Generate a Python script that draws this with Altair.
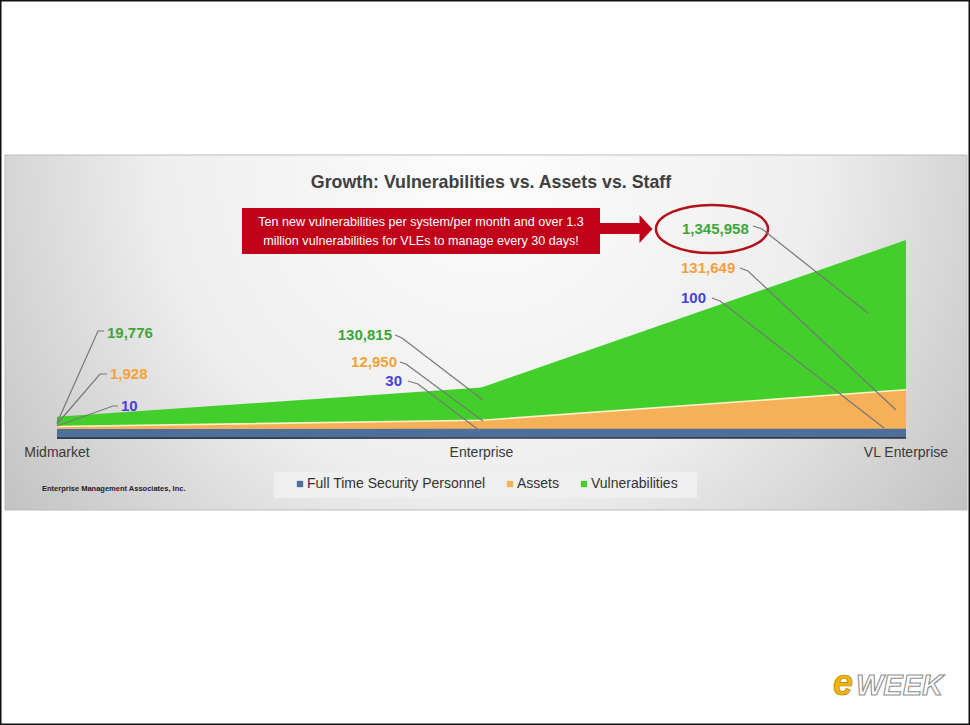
import altair as alt
import pandas as pd

# ---------------- data ----------------
categories = ["Midmarket", "Enterprise", "VL Enterprise"]
series_names = ["Full Time Security Personnel", "Assets", "Vulnerabilities"]
staff = [10, 30, 100]
assets = [1928, 12950, 131649]
vulnerabilities = [19776, 130815, 1345958]

title_text = "Growth: Vulnerabilities vs. Assets vs. Staff"
callout_text = ("Ten new vulnerabilities per system/per month and over 1.3\n"
                "million vulnerabilities for VLEs to manage every 30 days!")
source_text = "Enterprise Management Associates, Inc."

# ---------------- styles / layout ----------------
series_colors = ["#4e6f9b", "#f5b058", "#42cf2b"]
label_colors = ["#4b3fdc", "#f2a23c", "#3ea63a"]
FONT = "Liberation Sans"

# annotation layout: (category, series index) -> label anchor and leader polyline
label_layout = {
    ("Midmarket", 2): (107, 333, "left", [(57, 423), (98, 331), (104, 331)]),
    ("Midmarket", 1): (110, 374, "left", [(57, 424), (100, 374), (107, 374)]),
    ("Midmarket", 0): (121, 406, "left", [(57, 426), (113, 406), (118, 406)]),
    ("Enterprise", 2): (392, 335, "right", [(395, 335), (402, 338), (483, 400)]),
    ("Enterprise", 1): (397, 362, "right", [(400, 362), (406, 364), (483, 421)]),
    ("Enterprise", 0): (402, 381, "right", [(408, 381), (418, 384), (480, 431)]),
    ("VL Enterprise", 2): (682, 229, "left", [(753, 226), (762, 229), (868, 313)]),
    ("VL Enterprise", 1): (681, 268, "left", [(740, 268), (748, 271), (896, 410)]),
    ("VL Enterprise", 0): (681, 298, "left", [(712, 298), (720, 301), (884, 428)]),
}

# ---------------- tables ----------------
series_values = [staff, assets, vulnerabilities]
rows = []
for i, c in enumerate(categories):
    for j, name in enumerate(series_names):
        rows.append({"category": c, "series": name, "value": series_values[j][i], "order": j})
df = pd.DataFrame(rows)

lab_rows, lead_rows = [], []
for i, c in enumerate(categories):
    for j, name in enumerate(series_names):
        px, py, al, poly = label_layout[(c, j)]
        lab_rows.append({"category": c, "series": name, "value": series_values[j][i],
                         "px": px, "py": py, "anchor": al})
        for k, (lx, ly) in enumerate(poly):
            lead_rows.append({"id": f"{c}-{j}", "seq": k, "px": lx, "py": ly})
lab_df = pd.DataFrame(lab_rows)
lead_df = pd.DataFrame(lead_rows)

one = pd.DataFrame({"a": [0]})

ymax = max(a + v for a, v in zip(assets, vulnerabilities))
yscale = alt.Scale(type="pow", exponent=0.65, domain=[0, ymax], range=[429, 240])
xscale = alt.Scale(type="point", domain=categories, range=[57, 906], padding=0)
X = alt.X("category:O", scale=xscale, axis=None)

# ---------------- decorations ----------------
gradient = {
    "gradient": "radial",
    "x1": 0.5, "y1": 0.32, "r1": 0,
    "x2": 0.5, "y2": 0.32, "r2": 0.62,
    "stops": [
        {"offset": 0, "color": "#fdfdfd"},
        {"offset": 0.55, "color": "#eeeeee"},
        {"offset": 1, "color": "#c2c2c2"},
    ],
}
panel = alt.Chart(one).mark_rect(fill=gradient, stroke="#bdbdbd", strokeWidth=1).encode(
    x=alt.value(5), x2=alt.value(967), y=alt.value(155), y2=alt.value(510))

legend_box = alt.Chart(one).mark_rect(color="#efefef").encode(
    x=alt.value(274), x2=alt.value(697), y=alt.value(472), y2=alt.value(498))

title = alt.Chart(one).mark_text(
    text=title_text, font=FONT, fontSize=17.8, fontWeight="bold", color="#404040",
    align="center", baseline="middle").encode(x=alt.value(491), y=alt.value(183))

red = "#c10019"
box = alt.Chart(one).mark_rect(color=red).encode(
    x=alt.value(242), x2=alt.value(600), y=alt.value(208), y2=alt.value(254))
shaft = alt.Chart(one).mark_rect(color=red).encode(
    x=alt.value(598), x2=alt.value(641), y=alt.value(223), y2=alt.value(234))
tri_path = "M -0.464 -1 L 0.464 0 L -0.464 1 Z"
head = alt.Chart(one).mark_point(shape=tri_path, filled=True, size=784, color=red, opacity=1).encode(
    x=alt.value(646), y=alt.value(229))
box_text = alt.Chart(one).mark_text(
    text=callout_text, lineBreak="\n", lineHeight=19,
    font=FONT, fontSize=12.6, color="white",
    align="center", baseline="middle").encode(x=alt.value(421), y=alt.value(222))

ell_path = ("M -1 0 C -1 -0.2375 -0.5523 -0.43 0 -0.43 C 0.5523 -0.43 1 -0.2375 1 0 "
            "C 1 0.2375 0.5523 0.43 0 0.43 C -0.5523 0.43 -1 0.2375 -1 0 Z")
ellipse = alt.Chart(one).mark_point(shape=ell_path, filled=False, size=112 * 112,
                                    color="#b3121c", strokeWidth=2.5, opacity=1).encode(
    x=alt.value(712), y=alt.value(229))

source = alt.Chart(one).mark_text(
    text=source_text, font=FONT, fontSize=7.5, fontWeight="bold", color="#222222",
    align="left", baseline="middle").encode(x=alt.value(42), y=alt.value(489))

page_border = alt.Chart(one).mark_rect(fillOpacity=0, stroke="#111111", strokeWidth=1.5).encode(
    x=alt.value(0.75), x2=alt.value(969.25), y=alt.value(0.75), y2=alt.value(724.25))

# eWEEK logo
logo_e = alt.Chart(one).mark_text(
    text="e", font=FONT, fontSize=36, fontWeight="bold", fontStyle="italic", color="#f1b50a",
    stroke="#b88000", strokeWidth=0.7, align="right", baseline="middle").encode(
    x=alt.value(853), y=alt.value(684))
logo_week = alt.Chart(one).mark_text(
    text="WEEK", font=FONT, fontSize=29, fontWeight="bold", fontStyle="italic", color="#ffffff",
    stroke="#8f8f8f", strokeWidth=1.1, align="left", baseline="middle").encode(
    x=alt.value(856), y=alt.value(686))

# ---------------- data marks ----------------
stacked = alt.Chart(df[df.series != series_names[0]]).transform_stack(
    stack="value", groupby=["category"], as_=["y0", "y1"],
    sort=[alt.SortField(field="order", order="ascending")])

areas = stacked.mark_area(opacity=1, interpolate="linear").encode(
    x=X,
    y=alt.Y("y1:Q", scale=yscale, axis=None),
    y2="y0:Q",
    color=alt.Color("series:N",
                    scale=alt.Scale(domain=series_names, range=series_colors),
                    legend=alt.Legend(orient="none", legendX=293, legendY=477, direction="horizontal",
                                      title=None, symbolType="square", symbolSize=40,
                                      symbolStrokeWidth=0, symbolOpacity=1,
                                      labelFont=FONT, labelFontSize=14, labelColor="#333333",
                                      labelLimit=400, labelOffset=0, columnPadding=17, padding=0)),
)

assets_edge = stacked.transform_filter(
    alt.datum.series == series_names[1]).mark_line(color="#fbf1c6", strokeWidth=1.6).encode(
    x=X, y=alt.Y("y1:Q", scale=yscale, axis=None))

staff_df = df[df.series == series_names[0]]
band = alt.Chart(staff_df).mark_line(color=series_colors[0], strokeWidth=9, yOffset=4.5,
                                     strokeCap="butt").encode(
    x=X, y=alt.Y("value:Q", scale=yscale, axis=None))
band_edge = alt.Chart(staff_df).mark_line(color="#2f3a4a", strokeWidth=1.6, yOffset=9.2,
                                          strokeCap="butt").encode(
    x=X, y=alt.Y("value:Q", scale=yscale, axis=None))

cat_labels = alt.Chart(pd.DataFrame({"category": categories})).mark_text(
    font=FONT, fontSize=14, color="#3a3a3a", align="center", baseline="middle").encode(
    x=X, y=alt.value(453), text="category:N")

leaders = alt.Chart(lead_df).mark_line(color="#777777", strokeWidth=1.2).encode(
    x=alt.X("px:Q", scale=None, axis=None),
    y=alt.Y("py:Q", scale=None, axis=None),
    detail="id:N", order="seq:Q")

value_label_layers = []
for al in ["left", "right"]:
    value_label_layers.append(
        alt.Chart(lab_df[lab_df["anchor"] == al]).mark_text(
            font=FONT, fontSize=15, fontWeight="bold", align=al, baseline="middle").encode(
            x=alt.X("px:Q", scale=None, axis=None),
            y=alt.Y("py:Q", scale=None, axis=None),
            text=alt.Text("value:Q", format=","),
            color=alt.Color("series:N", scale=alt.Scale(domain=series_names, range=label_colors),
                            legend=None)))

chart = alt.layer(
    panel, legend_box, title, box, shaft, head, box_text, ellipse,
    areas, assets_edge, band, band_edge, leaders, cat_labels,
    *value_label_layers, source, logo_e, logo_week, page_border,
).resolve_scale(
    x="independent", y="independent", color="independent"
).properties(
    width=970, height=725, padding=0, background="white",
    autosize=alt.AutoSizeParams(type="none"),
).configure_view(stroke=None).configure(font=FONT)

chart.save("out.html", embed_options={"renderer": "svg", "actions": False})
